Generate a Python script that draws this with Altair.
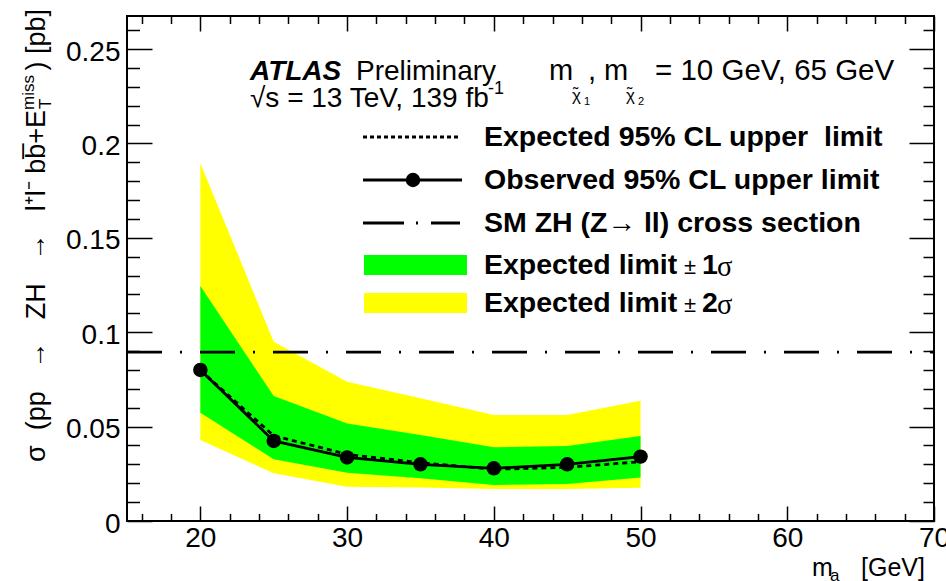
import altair as alt
import pandas as pd

# ---------------- data ----------------
mass = [20, 25, 30, 35, 40, 45, 50]
observed = [0.0800, 0.0424, 0.0337, 0.0300, 0.0279, 0.0300, 0.0341]
expected = [0.0798, 0.0452, 0.0353, 0.0309, 0.0274, 0.0284, 0.0314]
exp_plus1 = [0.1245, 0.0662, 0.0517, 0.0455, 0.0390, 0.0397, 0.0450]
exp_minus1 = [0.0574, 0.0327, 0.0256, 0.0226, 0.0191, 0.0196, 0.0231]
exp_plus2 = [0.1895, 0.0950, 0.0738, 0.0650, 0.0561, 0.0561, 0.0637]
exp_minus2 = [0.0429, 0.0253, 0.0182, 0.0178, 0.0169, 0.0169, 0.0176]
sm_mass = [15, 70]
sm_xsec = [0.0895, 0.0895]

x_major = [20, 30, 40, 50, 60, 70]
x_minor = [16, 18, 22, 24, 26, 28, 32, 34, 36, 38, 42, 44, 46, 48,
           52, 54, 56, 58, 62, 64, 66, 68]
y_major = [0, 0.05, 0.1, 0.15, 0.2, 0.25]
y_minor = [0.01, 0.02, 0.03, 0.04, 0.06, 0.07, 0.08, 0.09, 0.11, 0.12,
           0.13, 0.14, 0.16, 0.17, 0.18, 0.19, 0.21, 0.22, 0.23, 0.24, 0.26]

X_DOMAIN = [15, 70]
Y_DOMAIN = [0, 0.2675]

# ---------------- layout ----------------
PL, PT = 127, 16
W, H = 807, 505
PR = 946 - PL - W
PB = 581 - PT - H
FONT = "Liberation Sans"

df = pd.DataFrame({
    "mass": mass, "obs": observed, "exp": expected,
    "p1": exp_plus1, "m1": exp_minus1, "p2": exp_plus2, "m2": exp_minus2,
})
sm_df = pd.DataFrame({"mass": sm_mass, "xsec": sm_xsec})

xs = alt.Scale(domain=X_DOMAIN, nice=False, zero=False)
ys = alt.Scale(domain=Y_DOMAIN, nice=False, zero=False)


def axis(orient, values, size, labels=False, fmt="~g", **kw):
    return alt.Axis(
        orient=orient, values=values, tickSize=size, offset=-size,
        domain=False, grid=False, labels=labels, title=None,
        ticks=True, tickColor="black", tickWidth=1.5,
        labelFont=FONT, labelFontSize=28, labelColor="black",
        labelFlush=False, labelOverlap=False, format=fmt, zindex=1, **kw)


NOAX = None

yellow = alt.Chart(df).mark_area(color="#ffff00", opacity=1).encode(
    x=alt.X("mass:Q", scale=xs,
            axis=axis("bottom", x_major, 15, labels=True, fmt="d", labelPadding=3)),
    y=alt.Y("p2:Q", scale=ys,
            axis=axis("left", y_major, 25, labels=True, labelPadding=7, labelOffset=3)),
    y2="m2:Q",
)
green = alt.Chart(df).mark_area(color="#00ff00", opacity=1).encode(
    x=alt.X("mass:Q", scale=xs, axis=axis("bottom", x_minor, 7.5)),
    y=alt.Y("p1:Q", scale=ys, axis=axis("left", y_minor, 12.5)),
    y2="m1:Q",
)
sm_line = alt.Chart(sm_df).mark_line(color="black", strokeWidth=2.8, strokeDash=[35, 18, 2, 18]).encode(
    x=alt.X("mass:Q", scale=xs, axis=axis("top", x_major, 15)),
    y=alt.Y("xsec:Q", scale=ys, axis=axis("right", y_major, 25)),
)
exp_line = alt.Chart(df).mark_line(color="black", strokeWidth=2.8, strokeDash=[5, 4]).encode(
    x=alt.X("mass:Q", scale=xs, axis=axis("top", x_minor, 7.5)),
    y=alt.Y("exp:Q", scale=ys, axis=axis("right", y_minor, 11)),
)
obs_line = alt.Chart(df).mark_line(color="black", strokeWidth=2.8).encode(
    x=alt.X("mass:Q", scale=xs, axis=NOAX),
    y=alt.Y("obs:Q", scale=ys, axis=NOAX),
)
obs_pts = alt.Chart(df).mark_circle(color="black", size=210, opacity=1).encode(
    x=alt.X("mass:Q", scale=xs, axis=NOAX),
    y=alt.Y("obs:Q", scale=ys, axis=NOAX),
)


def one():
    return pd.DataFrame({"k": [0]})


def txt(s, x, y, size=28, weight="normal", style="normal", align="left",
        baseline="alphabetic", angle=0, font=FONT):
    return alt.Chart(pd.DataFrame({"t": [s]})).mark_text(
        align=align, baseline=baseline, font=font, fontSize=size,
        fontWeight=weight, fontStyle=style, angle=angle, color="black",
    ).encode(x=alt.value(x - PL), y=alt.value(y - PT), text="t:N")


def hrule(x1, x2, y, dash=None, width=2.8):
    kw = dict(color="black", strokeWidth=width)
    if dash:
        kw["strokeDash"] = dash
    return alt.Chart(one()).mark_rule(**kw).encode(
        x=alt.value(x1 - PL), x2=alt.value(x2 - PL), y=alt.value(y - PT))


def box(x1, x2, y1, y2, color):
    return alt.Chart(one()).mark_rect(color=color, opacity=1).encode(
        x=alt.value(x1 - PL), x2=alt.value(x2 - PL),
        y=alt.value(y1 - PT), y2=alt.value(y2 - PT))


def dot(x, y):
    return alt.Chart(one()).mark_circle(color="black", size=210, opacity=1).encode(
        x=alt.value(x - PL), y=alt.value(y - PT))


NB = "\u00a0"
ytitle_main = ("\u03c3" + NB * 2 + "(pp" + NB * 3 + "\u2192" + NB * 3 + "ZH" + NB * 3
               + "\u2192" + NB * 3 + "l\u207al\u207b" + NB + "bb\u0305+E")

LEG = 28.5
annotations = [
    # header
    txt("ATLAS", 250, 80, weight="bold", style="italic"),
    txt("Preliminary", 356, 80),
    txt("\u221as = 13 TeV, 139 fb", 250, 107),
    txt("-1", 488, 94, size=18),
    txt("m", 549, 80, size=29),
    txt("\u02dc", 573, 99, size=16),
    txt("\u03c7", 572, 101, size=17),
    txt("1", 584, 105, size=11),
    txt(", m", 588, 80, size=29),
    txt("\u02dc", 627, 99, size=16),
    txt("\u03c7", 626, 101, size=17),
    txt("2", 638, 105, size=11),
    txt("= 10 GeV, 65 GeV", 655, 80, size=29.5),
    # legend
    hrule(363, 460, 137, dash=[4, 3]),
    hrule(363, 462, 180),
    dot(413, 180),
    hrule(363, 460, 223, dash=[41, 12, 2, 13, 60, 0]),
    box(364, 467, 255, 275, "#00ff00"),
    box(364, 467, 293, 313, "#ffff00"),
    txt("Expected 95% CL upper" + NB + NB + "limit", 484, 137, size=LEG, weight="bold", baseline="middle"),
    txt("Observed 95% CL upper limit", 484, 180, size=LEG, weight="bold", baseline="middle"),
    txt("SM ZH (Z\u2192 ll) cross section", 484, 223, size=LEG, weight="bold", baseline="middle"),
    txt("Expected limit", 484, 265, size=LEG, weight="bold", baseline="middle"),
    txt("\u00b1", 684, 267, size=22, baseline="middle"),
    txt("1", 702, 265, size=LEG, weight="bold", baseline="middle"),
    txt("\u03c3", 717, 267, size=LEG, baseline="middle", font="Liberation Serif"),
    txt("Expected limit", 484, 303, size=LEG, weight="bold", baseline="middle"),
    txt("\u00b1", 684, 305, size=22, baseline="middle"),
    txt("2", 702, 303, size=LEG, weight="bold", baseline="middle"),
    txt("\u03c3", 717, 305, size=LEG, baseline="middle", font="Liberation Serif"),
    # x title
    txt("m", 812, 576, size=25),
    txt("a", 830, 581, size=17),
    txt("[GeV]", 925, 576, size=25, align="right"),
    # y title (rotated, reads bottom to top)
    txt(ytitle_main, 45, 110, size=27, align="right", angle=270),
    txt("T", 51, 109, size=17, angle=270),
    txt("miss", 34, 110, size=17, angle=270),
    txt(")" + NB + "[pb]", 45, 9, size=27, align="right", angle=270),
]

chart = alt.layer(
    yellow, green, sm_line, exp_line, obs_line, obs_pts, *annotations
).resolve_axis(x="independent", y="independent").properties(
    width=W, height=H,
    autosize=alt.AutoSizeParams(type="none"),
    padding={"left": PL, "top": PT, "right": PR, "bottom": PB},
    background="white",
).configure_view(stroke="black", strokeWidth=2)

chart.save("out.html", embed_options={"renderer": "svg", "actions": False})
